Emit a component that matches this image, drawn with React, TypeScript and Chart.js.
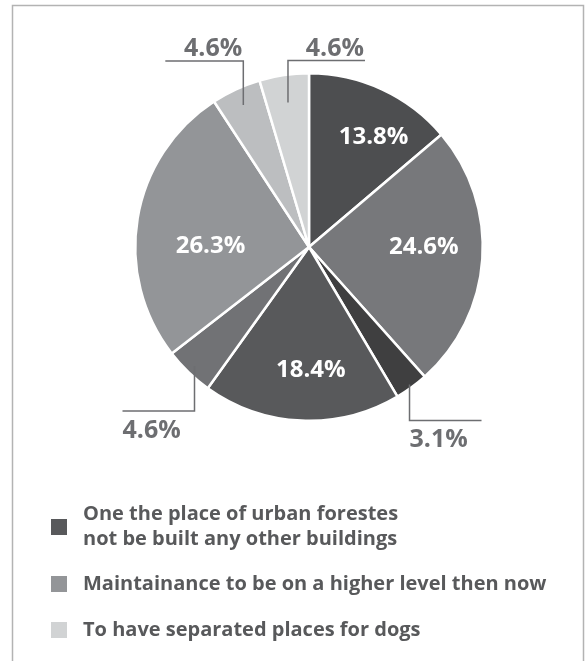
import React, { useEffect, useRef } from "react";
import { Chart, registerables } from "chart.js";

Chart.register(...registerables);

// ---- data ----
const sliceNames = [
  "Urban forests: no other buildings (a)",
  "Maintenance on a higher level (a)",
  "Urban forests: no other buildings (b)",
  "Urban forests: no other buildings (c)",
  "Maintenance on a higher level (b)",
  "Maintenance on a higher level (c)",
  "Separated places for dogs (a)",
  "Separated places for dogs (b)",
];
const sliceValues = [13.8, 24.6, 3.1, 18.4, 4.6, 26.3, 4.6, 4.6];
const sliceColors = [
  "#4d4e50",
  "#77787b",
  "#3f3f40",
  "#58595b",
  "#717275",
  "#939598",
  "#bcbec0",
  "#d1d3d4",
];
const legendLabels = [
  ["One the place of urban forestes", "not be built any other buildings"],
  ["Maintainance to be on a higher level then now"],
  ["To have separated places for dogs"],
];
const legendColors = ["#58595b", "#939598", "#d1d3d4"];

// ---- styling of labels (not data) ----
const insideNudge: Record<number, [number, number]> = {
  0: [15, -3],
  1: [-3, -8],
  3: [7, 5],
  5: [18, 19],
};
type Callout = { anchor: number; leg: number; dir: number; len: number; above: boolean };
const callouts: Record<number, Callout> = {
  2: { anchor: 0.98, leg: 36, dir: 1, len: 72, above: false },
  4: { anchor: 0.95, leg: 45, dir: -1, len: 72, above: false },
  6: { anchor: 0.9, leg: 44, dir: -1, len: 78, above: true },
  7: { anchor: 0.84, leg: 42, dir: 1, len: 77, above: true },
};

const FONT = "'Open Sans', 'Noto Sans', sans-serif";

const framePlugin = {
  id: "frame",
  beforeDraw(chart: any) {
    const ctx = chart.ctx;
    ctx.save();
    ctx.strokeStyle = "#b3b3b3";
    ctx.lineWidth = 1.5;
    ctx.beginPath();
    ctx.moveTo(12.5, 661);
    ctx.lineTo(12.5, 5.5);
    ctx.lineTo(583.5, 5.5);
    ctx.lineTo(583.5, 661);
    ctx.stroke();
    ctx.restore();
  },
};

const labelPlugin = {
  id: "sliceLabels",
  afterDatasetsDraw(chart: any) {
    const ctx = chart.ctx;
    const meta = chart.getDatasetMeta(0);
    ctx.save();
    meta.data.forEach((arc: any, i: number) => {
      const p = arc.getProps(["x", "y", "startAngle", "endAngle", "outerRadius"], true);
      const mid = (p.startAngle + p.endAngle) / 2;
      const txt = sliceValues[i].toFixed(1) + "%";
      const c = callouts[i];
      if (!c) {
        const d = p.outerRadius * 0.68;
        const n = insideNudge[i] || [0, 0];
        const x = p.x + Math.cos(mid) * d + n[0];
        const y = p.y + Math.sin(mid) * d + n[1];
        ctx.fillStyle = "#ffffff";
        ctx.font = `bold 24px ${FONT}`;
        ctx.textAlign = "center";
        ctx.textBaseline = "middle";
        ctx.fillText(txt, x, y);
      } else {
        const ax = p.x + Math.cos(mid) * p.outerRadius * c.anchor;
        const ay = p.y + Math.sin(mid) * p.outerRadius * c.anchor;
        const ey = c.above ? ay - c.leg : ay + c.leg;
        const ex = ax + c.dir * c.len;
        ctx.strokeStyle = "#6d6e71";
        ctx.lineWidth = 1.5;
        ctx.beginPath();
        ctx.moveTo(ax, ay);
        ctx.lineTo(ax, ey);
        ctx.lineTo(ex, ey);
        ctx.stroke();
        ctx.fillStyle = "#6d6e71";
        ctx.font = `bold 25px ${FONT}`;
        ctx.textBaseline = "alphabetic";
        const left = Math.min(ax, ex);
        const right = Math.max(ax, ex);
        if (c.above) {
          ctx.textAlign = "right";
          ctx.fillText(txt, right - 1, ey - 5);
        } else {
          ctx.textAlign = "left";
          ctx.fillText(txt, left, ey + 27);
        }
      }
    });
    ctx.restore();
  },
};

const legendPlugin = {
  id: "customLegend",
  afterDraw(chart: any) {
    const ctx = chart.ctx;
    ctx.save();
    ctx.font = `bold 20px ${FONT}`;
    ctx.textBaseline = "middle";
    ctx.textAlign = "left";
    const centers = [527, 584, 630];
    legendLabels.forEach((lines, i) => {
      const cy = centers[i];
      ctx.fillStyle = legendColors[i];
      ctx.fillRect(51, cy - 8, 16, 16);
      ctx.fillStyle = "#58595b";
      const lh = 25;
      const start = cy - ((lines.length - 1) * lh) / 2;
      lines.forEach((t, j) => ctx.fillText(t, 83, start + j * lh));
    });
    ctx.restore();
  },
};

export default function App() {
  const ref = useRef<HTMLCanvasElement>(null);
  useEffect(() => {
    if (!ref.current) return;
    const chart = new Chart(ref.current, {
      type: "pie",
      data: {
        labels: sliceNames,
        datasets: [
          {
            data: sliceValues,
            backgroundColor: sliceColors,
            borderColor: "#ffffff",
            borderWidth: 2.5,
          },
        ],
      },
      options: {
        animation: false,
        responsive: false,
        layout: { padding: { left: 134, right: 104, top: 72, bottom: 239 } },
        plugins: { legend: { display: false }, tooltip: { enabled: false } },
      },
      plugins: [framePlugin, labelPlugin, legendPlugin],
    });
    return () => chart.destroy();
  }, []);
  return (
    <div style={{ position: "fixed", left: 0, top: 0, width: 588, height: 661, background: "#fff" }}>
      <canvas ref={ref} width={588} height={661} style={{ display: "block" }} />
    </div>
  );
}
